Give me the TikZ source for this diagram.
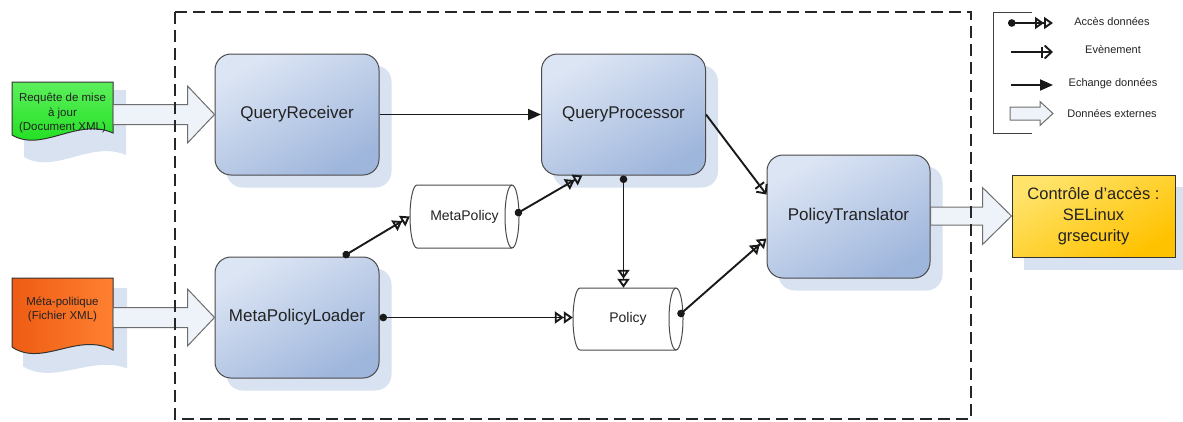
\documentclass[tikz,border=0pt]{standalone}
\usepackage{fontspec}
\setmainfont{Liberation Sans}
\usetikzlibrary{arrows.meta,calc,backgrounds}
\definecolor{boxtop}{HTML}{DCE5F4}
\definecolor{boxbot}{HTML}{9FB6DC}
\definecolor{shadowblue}{HTML}{D9E2F1}
\definecolor{edgegrey}{HTML}{4A4A4A}
\definecolor{fatfill}{HTML}{EEF2F9}
\definecolor{fatdraw}{HTML}{6E6E6E}
\definecolor{txt}{HTML}{222222}
\definecolor{greentop}{HTML}{5CF05C}
\definecolor{greenbot}{HTML}{18DC18}
\definecolor{orleft}{HTML}{EE5C14}
\definecolor{orright}{HTML}{FF8030}
\definecolor{yeltop}{HTML}{FFE36A}
\definecolor{yelbot}{HTML}{FFC200}
\begin{document}
\begin{tikzpicture}[x=1pt,y=-1pt,
  mainbox/.style={draw=edgegrey, line width=1pt, rounded corners=16pt,
    top color=boxtop, bottom color=boxbot, shading angle=30,
    minimum width=164pt, minimum height=121pt, inner sep=0pt,
    font=\fontsize{17}{20}\selectfont, text=txt},
  boxshadow/.style={fill=shadowblue, rounded corners=16pt},
  cyltext/.style={draw=none, inner sep=0pt, font=\fontsize{14}{16}\selectfont, text=txt},
  cylline/.style={draw=edgegrey, line width=1pt, fill=white},
  doctext/.style={draw=none, inner sep=0pt, minimum width=101pt, align=center,
    font=\fontsize{11.5}{14.5}\selectfont, text=txt},
  docline/.style={draw=black!80, line width=1pt},
  legtext/.style={inner sep=0pt, font=\fontsize{11}{13}\selectfont, text=txt},
  conn/.style={line width=1.9pt, draw=black!90},
  acces/.style={{Circle[length=7.5pt]}-{Triangle[open,length=9pt,width=12pt,sep=0pt]Triangle[open,length=9pt,width=12pt]}},
  evt/.style={-{Bar[width=11pt,sep=1pt]Straight Barb[length=7pt,width=13pt]}},
  xch/.style={-{Triangle[length=13pt,width=11pt]}},
  fat/.style={draw=fatdraw, fill=fatfill, line width=1pt},
  frame/.style={line width=1.6pt, draw=black!85, dash pattern=on 12pt off 6pt},
  legline/.style={line width=1pt, draw=black!75}]
\useasboundingbox (0,0) rectangle (1183,421);

% main blocks
\node[mainbox] (qr) at (297,114.5) {QueryReceiver};
\node[mainbox] (qp) at (623.5,114.5) {QueryProcessor};
\node[mainbox] (mpl) at (297,317.5) {MetaPolicyLoader};
\node[mainbox, minimum width=163pt, minimum height=123pt] (pt) at (848.5,216.5) {PolicyTranslator};

% cylinders (data stores)
\node[cyltext, minimum width=109pt, minimum height=63pt] (mp) at (464.5,216.5) {MetaPolicy};
\node[cyltext, minimum width=110pt, minimum height=62pt] (pol) at (628,319) {Policy};

% documents
\node[doctext] (gdoc) at (62.5,113) {Requête de mise\\à jour\\(Document XML)};
\node[doctext] (odoc) at (62.5,309.5) {Méta-politique\\(Fichier XML)};

% output box
\node[draw=black!80, line width=1pt, top color=yeltop, bottom color=yelbot, shading angle=30,
  minimum width=163pt, minimum height=82pt, inner sep=0pt, align=center,
  font=\fontsize{16.5}{21}\selectfont, text=txt]
  (yel) at (1093.5,216) {Contrôle d’accès :\\SELinux\\grsecurity};

\begin{scope}[on background layer]
  \foreach \n in {qr,qp,mpl,pt}
    \fill[boxshadow] ($(\n.north west)+(12,12)$) rectangle ($(\n.south east)+(12,12)$);
  \fill[shadowblue] ($(yel.north west)+(12,12)$) rectangle ($(yel.south east)+(12,12)$);
  \begin{scope}[shift={(mp)}]
    \path[cylline] (-47.5,-31.5) -- (47.5,-31.5) arc[start angle=90,end angle=-90,x radius=7pt,y radius=31.5pt]
      -- (-47.5,31.5) arc[start angle=270,end angle=90,x radius=7pt,y radius=31.5pt] -- cycle;
    \draw[cylline, fill=none] (47.5,-31.5) arc[start angle=90,end angle=270,x radius=7pt,y radius=31.5pt];
  \end{scope}
  \begin{scope}[shift={(pol)}]
    \path[cylline] (-48,-31) -- (48,-31) arc[start angle=90,end angle=-90,x radius=7pt,y radius=31pt]
      -- (-48,31) arc[start angle=270,end angle=90,x radius=7pt,y radius=31pt] -- cycle;
    \draw[cylline, fill=none] (48,-31) arc[start angle=90,end angle=270,x radius=7pt,y radius=31pt];
  \end{scope}
  \begin{scope}[shift={(gdoc)}]
    \fill[shadowblue] (-38.5,-23) -- (63.5,-23) -- (63.5,42) .. controls (28,27) and (-8,62) .. (-38.5,44) -- cycle;
    \path[docline, top color=greentop, bottom color=greenbot] (-50.5,-31) -- (50.5,-31) -- (50.5,20)
      .. controls (15,4) and (-20,40) .. (-50.5,22) -- cycle;
  \end{scope}
  \begin{scope}[shift={(odoc)}]
    \fill[shadowblue] (-39.5,-21.5) -- (64.5,-21.5) -- (64.5,59) .. controls (30,45) and (-8,76) .. (-39.5,57) -- cycle;
    \path[docline, left color=orleft, right color=orright] (-50.5,-31.5) -- (50.5,-31.5) -- (50.5,40.5)
      .. controls (15,22) and (-20,58) .. (-50.5,37.5) -- cycle;
  \end{scope}
\end{scope}

% external data arrows
\draw[fat] let \p1=(gdoc.east), \p2=(qr.west) in
  (\x1,\y2+10pt) -- (\x2-27pt,\y2+10pt) -- (\x2-27pt,\y2+28.5pt) -- (\x2,\y2)
  -- (\x2-27pt,\y2-28.5pt) -- (\x2-27pt,\y2-10pt) -- (\x1,\y2-10pt) -- cycle;
\draw[fat] let \p1=(odoc.east), \p2=(mpl.west) in
  (\x1,\y2+10pt) -- (\x2-27pt,\y2+10pt) -- (\x2-27pt,\y2+28.5pt) -- (\x2,\y2)
  -- (\x2-27pt,\y2-28.5pt) -- (\x2-27pt,\y2-10pt) -- (\x1,\y2-10pt) -- cycle;
\draw[fat] let \p1=(pt.east), \p2=(yel.west) in
  (\x1,\y2+9pt) -- (\x2-29pt,\y2+9pt) -- (\x2-29pt,\y2+28.5pt) -- (\x2,\y2)
  -- (\x2-29pt,\y2-28.5pt) -- (\x2-29pt,\y2-9pt) -- (\x1,\y2-9pt) -- cycle;

% connectors
\draw[conn, xch] (qr.east) -- (qp.west);
\draw[conn, acces] (mpl.53) -- (mp.west);
\draw[conn, acces] ($(mp.east)+(-4,-2)$) -- (qp.236);
\draw[conn, acces] (qp.south) -- (qp.south |- pol.north);
\draw[conn, acces] (mpl.east) -- (mpl.east -| pol.west);
\draw[conn, acces] ($(pol.east)+(-5,-3)$) -- (pt.195);
\draw[conn, evt] (qp.east) -- (pt.165);

% legend
\draw[legline] (1032,12) -- (993,12) -- (993,133) -- (1032,133);
\coordinate (l1a) at (1008,23); \coordinate (l1b) at (1053,23);
\coordinate (l2a) at (1011,52); \coordinate (l2b) at (1053,52);
\coordinate (l3a) at (1011,85); \coordinate (l3b) at (1053,85);
\coordinate (l4a) at (1010,113.5); \coordinate (l4b) at (1053,113.5);
\draw[conn, acces] (l1a) -- (l1b);
\draw[conn, evt] (l2a) -- (l2b);
\draw[conn, xch] (l3a) -- (l3b);
\draw[fat] let \p1=(l4a), \p2=(l4b) in
  (\x1,\y2+6.5pt) -- (\x2-13pt,\y2+6.5pt) -- (\x2-13pt,\y2+12pt) -- (\x2,\y2)
  -- (\x2-13pt,\y2-12pt) -- (\x2-13pt,\y2-6.5pt) -- (\x1,\y2-6.5pt) -- cycle;
\node[legtext] (t1) at (1112,22) {Accès données};
\node[legtext] (t2) at (1113,50) {Evènement};
\node[legtext] (t3) at (1113,84) {Echange données};
\node[legtext] (t4) at (1112,113) {Données externes};

% system boundary
\draw[frame] (175,12) rectangle (971,419);
\end{tikzpicture}
\end{document}
